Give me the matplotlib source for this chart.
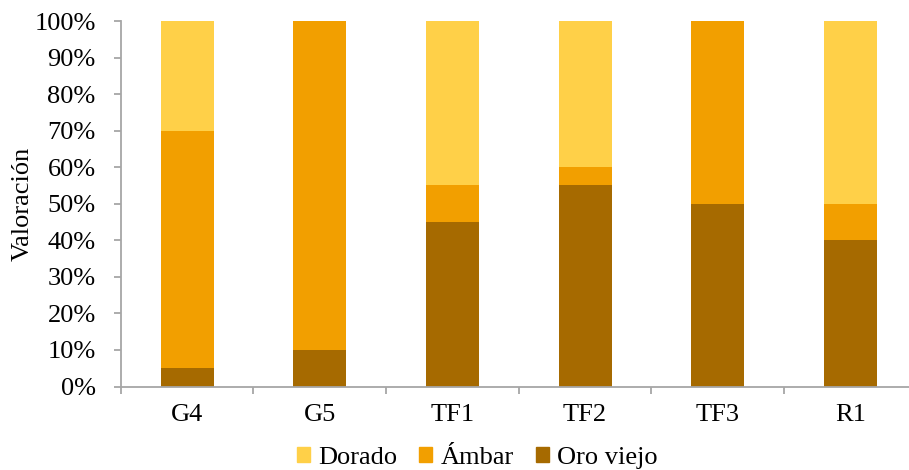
import matplotlib
matplotlib.use("Agg")
import matplotlib.pyplot as plt
from matplotlib.patches import Patch
from matplotlib.ticker import FixedLocator, FuncFormatter

categories = ["G4", "G5", "TF1", "TF2", "TF3", "R1"]
oro_viejo = [5, 10, 45, 55, 50, 40]
ambar = [65, 90, 10, 5, 50, 10]
dorado = [30, 0, 45, 40, 0, 50]

c_dorado = "#FFD048"
c_ambar = "#F29F00"
c_oro = "#A66A00"
axis_gray = "#A6A6A6"

plt.rcParams["font.family"] = ["Liberation Serif", "DejaVu Serif"]
fs = 19

fig = plt.figure(figsize=(9.09, 4.70), dpi=100)
ax = fig.add_axes([120.7 / 909, 1 - 386.5 / 470, (916.7 - 120.7) / 909, (386.5 - 21) / 470])

x = list(range(len(categories)))
w = 0.4
bottom2 = [a + b for a, b in zip(oro_viejo, ambar)]
ax.bar(x, oro_viejo, width=w, color=c_oro, label="Oro viejo")
ax.bar(x, ambar, width=w, bottom=oro_viejo, color=c_ambar, label="Ámbar")
ax.bar(x, dorado, width=w, bottom=bottom2, color=c_dorado, label="Dorado")

ax.set_xlim(-0.5, len(categories) - 0.5)
ax.set_ylim(0, 100)
ax.set_yticks(range(0, 101, 10))
ax.yaxis.set_major_formatter(FuncFormatter(lambda v, p: f"{int(v)}%"))
ax.set_xticks(x)
ax.set_xticklabels(categories)
ax.xaxis.set_minor_locator(FixedLocator([i - 0.5 for i in range(len(categories) + 1)]))

for s in ["top", "right"]:
    ax.spines[s].set_visible(False)
for s in ["left", "bottom"]:
    ax.spines[s].set_color(axis_gray)
    ax.spines[s].set_linewidth(1.3)

ax.tick_params(axis="y", length=5, width=1.3, color=axis_gray, labelsize=fs, pad=13)
ax.tick_params(axis="x", which="major", length=0, labelsize=fs, pad=12.5)
ax.tick_params(axis="x", which="minor", length=5, width=1.3, color=axis_gray)

ax.set_ylabel("Valoración", fontsize=fs, labelpad=0.5)

handles = [Patch(color=c_dorado), Patch(color=c_ambar), Patch(color=c_oro)]
fig.legend(handles, ["Dorado", "Ámbar", "Oro viejo"], loc="center",
           bbox_to_anchor=(0.525, 0.026), ncol=3, frameon=False,
           fontsize=fs, handlelength=0.5, handleheight=0.5,
           handletextpad=0.3, columnspacing=0.85, borderaxespad=0)

fig.savefig("out.png", dpi=100)
